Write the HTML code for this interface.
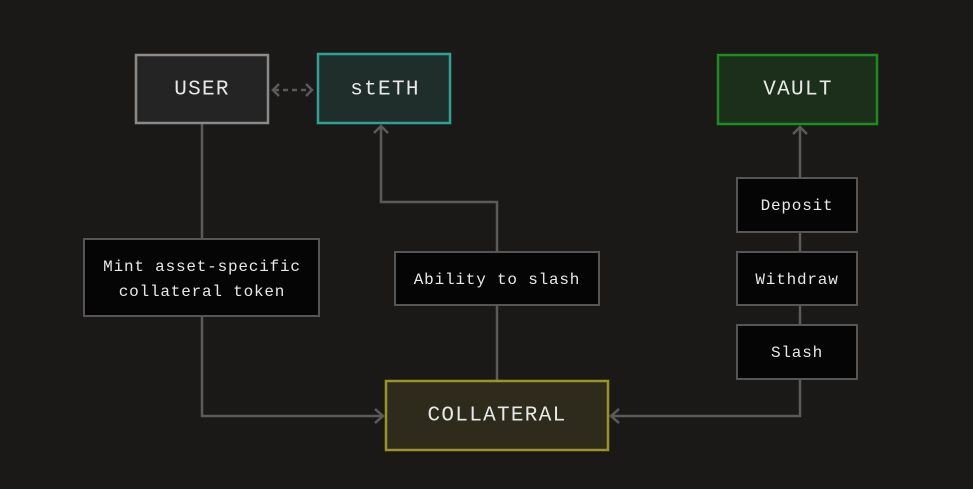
<!DOCTYPE html>
<html><head><style>
html,body{margin:0;padding:0;background:#1a1918;}
svg{display:block;}
text{font-family:"Liberation Mono","DejaVu Sans Mono",monospace;fill:#e8e8e8;text-anchor:middle;dominant-baseline:central;}
.big{font-size:21px;letter-spacing:1.3px;}
.sm{font-size:16px;letter-spacing:0.8px;}
</style></head><body>
<svg width="973" height="489" viewBox="0 0 973 489" xmlns="http://www.w3.org/2000/svg">
<rect width="973" height="489" fill="#1a1918"/>
<g fill="none" stroke="#5a5a5a" stroke-width="2.5">
  <line x1="202" y1="124" x2="202" y2="239"/>
  <polyline points="202,316 202,416 383,416"/>
  <polyline points="375,409 383,416 375,423"/>
  <line x1="497" y1="381" x2="497" y2="305"/>
  <polyline points="497,252 497,202 381,202 381,126"/>
  <polyline points="374,133 381,126 388,133"/>
  <polyline points="800,379 800,416 611,416"/>
  <polyline points="619,409 611,416 619,423"/>
  <line x1="800" y1="232" x2="800" y2="252"/>
  <line x1="800" y1="305" x2="800" y2="325"/>
  <line x1="800" y1="178" x2="800" y2="127"/>
  <polyline points="793,134 800,127 807,134"/>
  <line x1="274" y1="90" x2="311" y2="90" stroke-dasharray="5,4"/>
  <polyline points="279,84 273,90 279,96"/>
  <polyline points="306,84 312,90 306,96"/>
</g>
<rect x="136" y="55" width="132" height="68" fill="#252424" stroke="#8a8a8a" stroke-width="2.5"/>
<text class="big" x="202" y="90">USER</text>
<rect x="318" y="54" width="132" height="69" fill="#1f2d2b" stroke="#2ea394" stroke-width="2.5"/>
<text class="big" x="385" y="90">stETH</text>
<rect x="718" y="55" width="159" height="69" fill="#1b2f1b" stroke="#1c8c1c" stroke-width="2.5"/>
<text class="big" x="798" y="90">VAULT</text>
<rect x="84" y="239" width="235" height="77" fill="#050505" stroke="#555" stroke-width="2"/>
<text class="sm" x="202" y="267">Mint asset-specific</text>
<text class="sm" x="202" y="292">collateral token</text>
<rect x="395" y="252" width="204" height="53" fill="#050505" stroke="#555" stroke-width="2"/>
<text class="sm" x="497" y="280">Ability to slash</text>
<rect x="737" y="178" width="120" height="54" fill="#050505" stroke="#555" stroke-width="2"/>
<text class="sm" x="797" y="206">Deposit</text>
<rect x="737" y="252" width="120" height="53" fill="#050505" stroke="#555" stroke-width="2"/>
<text class="sm" x="797" y="280">Withdraw</text>
<rect x="737" y="325" width="120" height="54" fill="#050505" stroke="#555" stroke-width="2"/>
<text class="sm" x="797" y="353">Slash</text>
<rect x="386" y="381" width="222" height="69" fill="#2e2b1c" stroke="#9a9326" stroke-width="2.5"/>
<text class="big" x="497" y="416">COLLATERAL</text>
</svg>
</body></html>
